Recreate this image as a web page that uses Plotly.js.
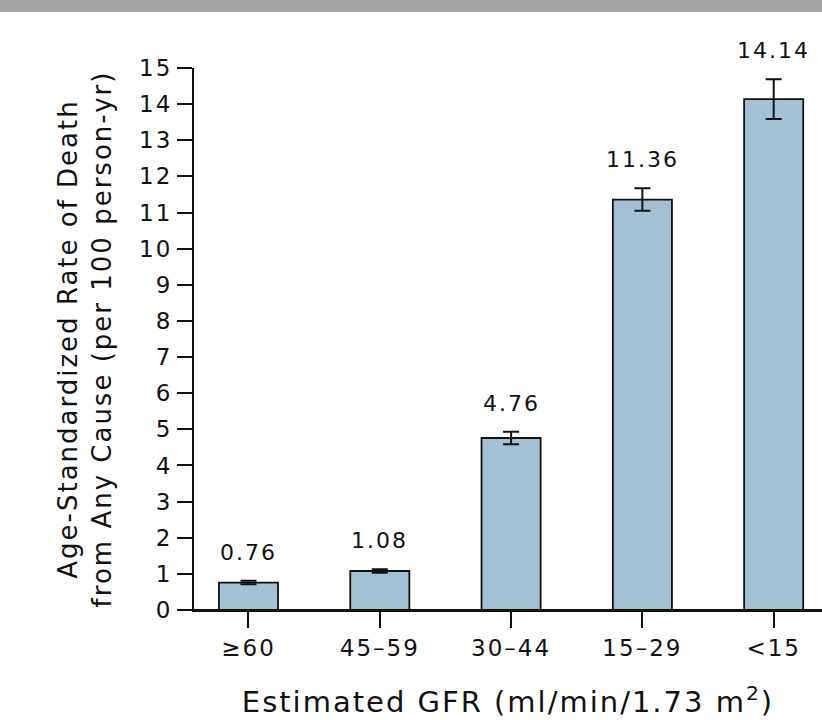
<!DOCTYPE html>
<html>
<head>
<meta charset="utf-8">
<script src="https://cdn.plot.ly/plotly-3.0.1.min.js"></script>
<style>
  html, body { margin: 0; padding: 0; background: #ffffff; }
  #chart { width: 822px; height: 720px; }
  #chart .main-svg text { letter-spacing: 2px; }
</style>
</head>
<body>
<div id="chart"></div>
<script>
// Data
const categories = ["\u226560", "45\u201359", "30\u201344", "15\u201329", "<15"];
const deathRates = [0.76, 1.08, 4.76, 11.36, 14.14];
const errorHalfWidths = [0.05, 0.05, 0.17, 0.31, 0.55];
const valueLabels = ["0.76", "1.08", "4.76", "11.36", "14.14"];
const yTickValues = [0, 1, 2, 3, 4, 5, 6, 7, 8, 9, 10, 11, 12, 13, 14, 15];

const FONT = "DejaVu Sans, Noto Sans, sans-serif";
const TXT = "#111111";

const trace = {
  type: "bar",
  x: categories,
  y: deathRates,
  width: 0.45,
  marker: { color: "#a4c1d3", line: { color: "#111111", width: 1.8 } },
  error_y: {
    type: "data",
    array: errorHalfWidths,
    visible: true,
    color: "#111111",
    thickness: 2,
    width: 8
  },
  hoverinfo: "x+y"
};

const annotations = categories.map((c, i) => ({
  x: c,
  y: deathRates[i] + errorHalfWidths[i],
  xref: "x",
  yref: "y",
  text: valueLabels[i],
  showarrow: false,
  yanchor: "bottom",
  yshift: 14,
  font: { family: FONT, size: 22, color: TXT }
}));

const layout = {
  width: 822,
  height: 720,
  margin: { l: 194, r: 0, t: 68, b: 110 },
  paper_bgcolor: "#ffffff",
  plot_bgcolor: "#ffffff",
  showlegend: false,
  bargap: 0.55,
  font: { family: FONT, size: 22, color: TXT },
  xaxis: {
    type: "category",
    range: [-0.415, 4.368],
    showgrid: false,
    zeroline: false,
    showline: true,
    linecolor: "#111111",
    linewidth: 2,
    ticks: "outside",
    ticklen: 16,
    tickwidth: 2,
    tickcolor: "#111111",
    tickfont: { family: FONT, size: 23, color: TXT },
    automargin: false,
    title: {
      text: "Estimated GFR (ml/min/1.73 m<sup>2</sup>)",
      font: { family: FONT, size: 29, color: TXT },
      standoff: 32
    }
  },
  yaxis: {
    range: [0, 15],
    tickvals: yTickValues,
    showgrid: false,
    zeroline: false,
    showline: true,
    linecolor: "#111111",
    linewidth: 2,
    ticks: "outside",
    ticklen: 15,
    tickwidth: 2,
    tickcolor: "#111111",
    tickfont: { family: FONT, size: 23, color: TXT },
    automargin: false,
    title: {
      text: "Age-Standardized Rate of Death<br>from Any Cause (per 100 person-yr)",
      font: { family: FONT, size: 26, color: TXT },
      standoff: 24
    }
  },
  shapes: [
    {
      type: "rect", xref: "paper", yref: "paper",
      x0: -0.32, x1: 1.01, y0: 1.1033, y1: 1.14,
      fillcolor: "#a4a4a4", line: { width: 0 }, layer: "above"
    },
    {
      type: "line", xref: "paper", yref: "y",
      x0: -0.0255, x1: 1, y0: 0, y1: 0,
      line: { color: "#111111", width: 2 }, layer: "above"
    }
  ],
  annotations: annotations
};

Plotly.newPlot("chart", [trace], layout, { displayModeBar: false, staticPlot: true });
</script>
</body>
</html>
